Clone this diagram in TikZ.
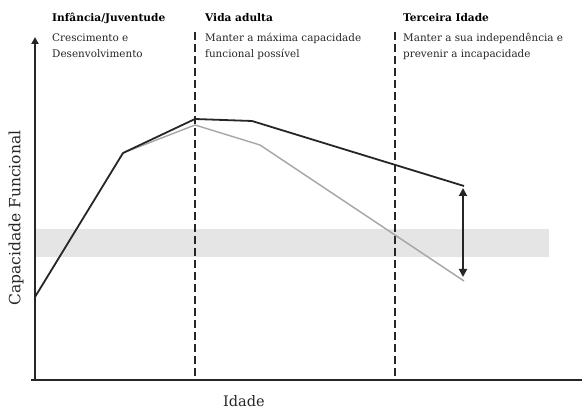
\documentclass[tikz,border=0pt]{standalone}
\usepackage{fontspec}
\setmainfont{DejaVu Serif}
\usetikzlibrary{arrows.meta}
\begin{document}
\begin{tikzpicture}[x=1pt,y=-1pt,
  axis/.style={line width=1.8pt,color=black!85},
  agecut/.style={line width=1.6pt,color=black!85,dash pattern=on 8pt off 4pt},
  curveblack/.style={line width=1.8pt,color=black!85,line join=round},
  curvegrey/.style={line width=1.4pt,color=black!35,line join=round},
  title/.style={anchor=base west,inner sep=0pt,font=\fontsize{10.6}{16}\selectfont\bfseries},
  body/.style={anchor=base west,inner sep=0pt,align=left,font=\fontsize{10.4}{16}\selectfont,text=black!85},
  axlabel/.style={inner sep=0pt,text=black!85}]
\useasboundingbox (0,0) rectangle (582,411);
% grey band
\fill[black!10] (35,229) rectangle (549,257);
% axes
\coordinate (o) at (35,380);
\coordinate (ytop) at (35,37);
\coordinate (xstart) at (31,380);
\coordinate (xend) at (582,380);
\draw[axis,-{Triangle[length=7pt,width=7pt]}] (o) -- (ytop);
\draw[axis] (xstart) -- (xend);
% dashed lines
\coordinate (d1t) at (195,32); \coordinate (d1b) at (195,380);
\coordinate (d2t) at (395,32); \coordinate (d2b) at (395,380);
\draw[agecut] (d1t) -- (d1b);
\draw[agecut] (d2t) -- (d2b);
% curves
\coordinate (p0) at (35,297);
\coordinate (p1) at (123,153);
\coordinate (p2) at (195,119);
\coordinate (p3) at (252,121);
\coordinate (p4) at (464,186);
\coordinate (g2) at (195,125);
\coordinate (g3) at (260,145);
\coordinate (g4) at (464,281);
\draw[curvegrey] (p1) -- (g2) -- (g3) -- (g4);
\draw[curveblack] (p0) -- (p1) -- (p2) -- (p3) -- (p4);
% double arrow
\coordinate (a1) at (463,188);
\coordinate (a2) at (463,277);
\draw[line width=1.8pt,color=black!85,{Triangle[length=8pt,width=8pt]}-{Triangle[length=8pt,width=8pt]}] (a1) -- (a2);
% texts
\node[title] (t1) at (52,22) {Infância/Juventude};
\node[title] (t2) at (205,22) {Vida adulta};
\node[title] (t3) at (403,22) {Terceira Idade};
\node[body] (b1) at (52,58) {Crescimento e\\Desenvolvimento};
\node[body] (b2) at (205,58) {Manter a máxima capacidade\\funcional possível};
\node[body] (b3) at (403,58) {Manter a sua independência e\\prevenir a incapacidade};
\node[axlabel,rotate=90,font=\fontsize{15.5}{16}\selectfont] (yl) at (16,218) {Capacidade Funcional};
\node[axlabel,font=\fontsize{14.5}{16}\selectfont] (xl) at (244,401) {Idade};
\end{tikzpicture}
\end{document}
